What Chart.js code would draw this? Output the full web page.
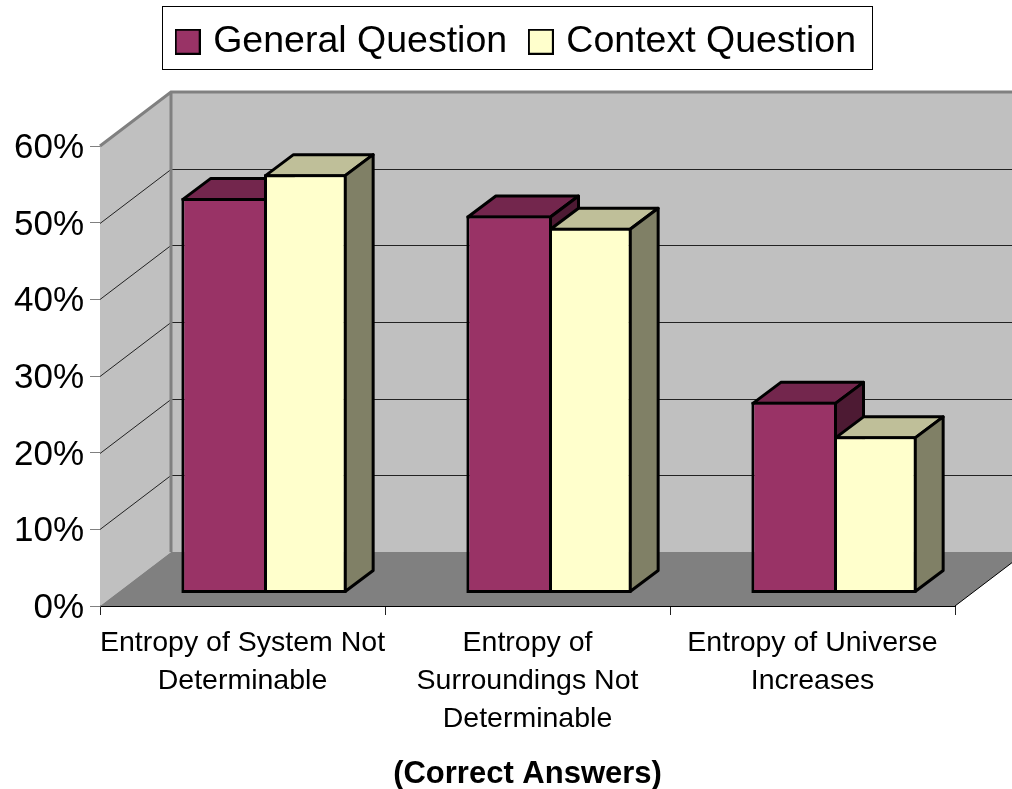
<!DOCTYPE html>
<html>
<head>
<meta charset="utf-8">
<style>
  html, body { margin: 0; padding: 0; background: #fff; }
  canvas { display: block; }
</style>
<script src="https://cdn.jsdelivr.net/npm/chart.js@4"></script>
</head>
<body>
<canvas id="myChart" width="1012" height="789"></canvas>
<script>
const categories = [
  ['Entropy of System Not', 'Determinable'],
  ['Entropy of', 'Surroundings Not', 'Determinable'],
  ['Entropy of Universe', 'Increases']
];
const generalValues = [0.516, 0.493, 0.25];
const contextValues = [0.547, 0.477, 0.205];
const seriesNames = ['General Question', 'Context Question'];
const seriesColors = ['#993366', '#FFFFCC'];
const axisTitle = '(Correct Answers)';

// fake 3d: how far the back wall sits from the axes, how far the bars sit
// off the floor front and how deep the bars are
const wallX = 71, wallY = -54;
const barShiftX = 21.5, barShiftY = -12.5;
const depthX = 28, depthY = -21;
const faceColors = [
  { top: '#73264D', side: '#4D1A33' },
  { top: '#BFBF99', side: '#808066' }
];

function poly(ctx, pts, fill, stroke, width) {
  ctx.beginPath();
  pts.forEach((p, i) => i ? ctx.lineTo(p[0], p[1]) : ctx.moveTo(p[0], p[1]));
  ctx.closePath();
  if (fill) { ctx.fillStyle = fill; ctx.fill(); }
  if (stroke) { ctx.strokeStyle = stroke; ctx.lineWidth = width; ctx.lineJoin = 'round'; ctx.stroke(); }
}

// legend text sits closer to its swatch than the library allows, so the
// swatch goes in as a point style image a bit wider than its slot
function swatch(color) {
  const c = document.createElement('canvas');
  c.width = 26;
  c.height = 26;
  const g = c.getContext('2d');
  g.fillStyle = color;
  g.fillRect(1, 1, 24, 24);
  g.strokeStyle = '#000';
  g.lineWidth = 2;
  g.strokeRect(1, 1, 24, 24);
  return c;
}

const box3d = {
  id: 'box3d',
  beforeInit(chart) {
    // legend needs a tall slot, the plot starts well below its frame
    const fit = chart.legend.fit;
    chart.legend.fit = function () {
      fit.call(this);
      this.height = 139;
    };
  },
  afterLayout(chart) {
    // legend is centred on the page rather than on the plot
    chart.legend.left += 82;
    chart.legend.top -= 11;
    chart.legend.adjustHitBoxes();
  },
  beforeDatasetsDraw(chart) {
    const ctx = chart.ctx;
    const { left, right, top, bottom } = chart.chartArea;
    const y = chart.scales.y;
    ctx.save();
    // back wall, left wall, floor
    poly(ctx, [[left + wallX, top + wallY], [right + wallX, top + wallY], [right + wallX, bottom + wallY], [left + wallX, bottom + wallY]], '#C0C0C0');
    poly(ctx, [[left, top], [left + wallX, top + wallY], [left + wallX, bottom + wallY], [left, bottom]], '#C0C0C0');
    poly(ctx, [[left, bottom], [left + wallX, bottom + wallY], [right + wallX, bottom + wallY], [right, bottom]], '#808080');
    // grid lines run along the left wall and across the back
    ctx.strokeStyle = '#222';
    ctx.lineWidth = 1;
    y.ticks.forEach(t => {
      const py = Math.round(y.getPixelForValue(t.value)) + 0.5;
      if (t.value === 0 || t.value > 0.59) return;
      ctx.beginPath();
      ctx.moveTo(left, py);
      ctx.lineTo(left + wallX, py + wallY);
      ctx.lineTo(right + wallX, py + wallY);
      ctx.stroke();
    });
    // wall edges
    ctx.strokeStyle = '#808080';
    ctx.lineWidth = 3;
    ctx.beginPath();
    ctx.moveTo(left, top);
    ctx.lineTo(left + wallX, top + wallY);
    ctx.lineTo(right + wallX, top + wallY);
    ctx.moveTo(left + wallX, top + wallY);
    ctx.lineTo(left + wallX, bottom + wallY);
    ctx.stroke();
    // floor right edge
    ctx.strokeStyle = '#000';
    ctx.lineWidth = 1;
    ctx.beginPath();
    ctx.moveTo(right, bottom);
    ctx.lineTo(right + wallX, bottom + wallY);
    ctx.stroke();
    ctx.restore();
  },
  // library order paints the last dataset first, here the second series must
  // cover the side of the first, so the bars get painted below
  beforeDatasetDraw() {
    return false;
  },
  afterDatasetsDraw(chart) {
    const ctx = chart.ctx;
    ctx.save();
    ctx.translate(barShiftX, barShiftY);
    chart.data.datasets.forEach((ds, i) => {
      chart.getDatasetMeta(i).data.forEach(bar => {
        const l = bar.x - bar.width / 2 + 1.5;
        const r = bar.x + bar.width / 2 + (i === 0 ? 1.5 : -1.5);
        const t = bar.y + 1.5, b = bar.base - 1.5;
        poly(ctx, [[l, t], [l + depthX, t + depthY], [r + depthX, t + depthY], [r, t]], faceColors[i].top, '#000', 3);
        poly(ctx, [[r, t], [r + depthX, t + depthY], [r + depthX, b + depthY], [r, b]], faceColors[i].side, '#000', 3);
        bar.draw(ctx);
      });
    });
    ctx.restore();
  },
  afterDraw(chart) {
    // frame round the legend
    const ctx = chart.ctx;
    const hits = chart.legend.legendHitBoxes;
    const last = hits[hits.length - 1];
    const x0 = Math.round(hits[0].left - 19) + 0.5;
    const x1 = Math.round(last.left + last.width + 16) + 0.5;
    ctx.save();
    ctx.strokeStyle = '#000';
    ctx.lineWidth = 1;
    ctx.strokeRect(x0, Math.round(chart.legend.top + 10) + 0.5, x1 - x0, 63);
    ctx.restore();
  }
};

new Chart(document.getElementById('myChart').getContext('2d'), {
  type: 'bar',
  plugins: [box3d],
  data: {
    labels: categories,
    datasets: [
      {
        label: seriesNames[0],
        data: generalValues,
        backgroundColor: seriesColors[0],
        borderColor: '#000',
        borderWidth: { left: 3, top: 3, bottom: 3, right: 0 },
        borderSkipped: false
      },
      {
        label: seriesNames[1],
        data: contextValues,
        backgroundColor: seriesColors[1],
        borderColor: '#000',
        borderWidth: 3,
        borderSkipped: false
      }
    ]
  },
  options: {
    responsive: false,
    animation: false,
    categoryPercentage: 0.58,
    barPercentage: 1,
    layout: { padding: { left: 0, right: 57, top: 7, bottom: 0 } },
    plugins: {
      tooltip: { enabled: false },
      legend: {
        position: 'top',
        labels: {
          color: '#000',
          font: { family: '"Liberation Sans"', size: 37.5 },
          usePointStyle: true,
          pointStyleWidth: 13.5,
          padding: 27,
          generateLabels(chart) {
            return Chart.defaults.plugins.legend.labels.generateLabels(chart).map((item, i) => {
              item.pointStyle = swatch(seriesColors[i]);
              return item;
            });
          }
        }
      }
    },
    scales: {
      x: {
        afterFit(scale) { scale.height = 183; },
        grid: { drawOnChartArea: false, color: '#222', tickLength: 9 },
        border: { color: '#000' },
        ticks: {
          color: '#000',
          padding: 9,
          maxRotation: 0,
          autoSkip: false,
          font: { family: '"Liberation Sans"', size: 28.5, lineHeight: 1.333 }
        },
        title: {
          display: true,
          text: axisTitle,
          color: '#000',
          padding: { top: 0, bottom: -4 },
          font: { family: '"Liberation Sans"', size: 31, weight: 'bold' }
        }
      },
      y: {
        afterFit(scale) { scale.width = 100; },
        min: 0,
        max: 0.6,
        grid: { drawOnChartArea: false, color: '#808080', tickLength: 10 },
        border: { color: '#555' },
        ticks: {
          color: '#000',
          stepSize: 0.1,
          padding: 6,
          labelOffset: 2.5,
          font: { family: '"Liberation Sans"', size: 35 },
          callback: v => Math.round(v * 100) + '%'
        }
      }
    }
  }
});
</script>
</body>
</html>
